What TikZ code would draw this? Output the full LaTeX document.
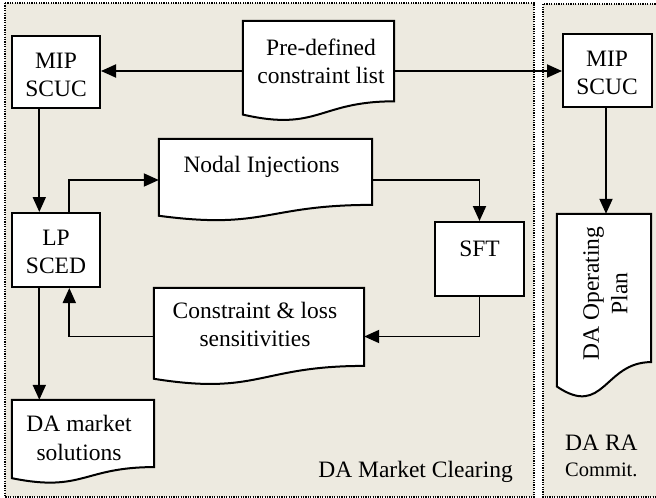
\documentclass[tikz,border=0pt]{standalone}
\usepackage{fontspec}
\setmainfont{Liberation Serif}
\usetikzlibrary{arrows.meta,calc}

\definecolor{paper}{RGB}{237,234,224}
\newcommand{\lbltxt}{\fontsize{23.5}{28.5}\selectfont}
\newcommand{\smalltxt}{\fontsize{20.5}{24}\selectfont}

\pgfdeclarelayer{panels}
\pgfdeclarelayer{shapes}
\pgfsetlayers{panels,shapes,main}

% outline of a flowchart "document" shape around a named frame node
\newcommand{\docoutline}[1]{%
  \draw[docline] (#1.north west) -- (#1.north east)
    -- ($(#1.north east)!0.802!(#1.south east)$)
    .. controls ($(#1.north)!0.802!(#1.south)$) and ($(#1.north)!1.107!(#1.south)$)
    .. ($(#1.north west)!0.934!(#1.south west)$) -- cycle;}

\tikzset{
  procbox/.style={draw, fill=white, line width=2pt, rectangle, inner sep=0pt},
  docframe/.style={rectangle, inner sep=0pt, draw=none},
  docline/.style={draw, fill=white, line width=2pt, line join=miter},
  lbl/.style={font=\lbltxt, align=center, inner sep=0pt},
  arr/.style={line width=1.9pt, -{Triangle[length=15pt,width=13pt]}},
  panelline/.style={line width=1.3pt, dash pattern=on 1.2pt off 1.2pt},
}

\begin{document}
\begin{tikzpicture}[x=1pt, y=-1pt]
\useasboundingbox (0,0) rectangle (656,498);

% panels
\begin{pgfonlayer}{panels}
  \fill[paper] (5,3) rectangle (534,497);
  \draw[panelline] (5,3) rectangle (534,497);
  \fill[paper] (543,4) rectangle (656,497);
  \draw[panelline] (658,4) -- (543,4) -- (543,497) -- (658,497);
\end{pgfonlayer}

% process boxes
\node[procbox, minimum width=88pt, minimum height=72pt] (mipL) at (56,72) {};
\node[lbl] at (56,75) {MIP\\SCUC};
\node[procbox, minimum width=88pt, minimum height=74pt] (lp) at (56,250) {};
\node[lbl] at (56,252) {LP\\SCED};
\node[procbox, minimum width=89pt, minimum height=74pt] (sft) at (479.5,259) {};
\node[lbl] at (479.5,248.5) {SFT};
\node[procbox, minimum width=89pt, minimum height=73pt] (mipR) at (607.5,70.5) {};
\node[lbl] at (607,73) {MIP\\SCUC};

% document shapes (frames) and their texts
\node[docframe, minimum width=151pt, minimum height=100pt] (pre) at (318.5,71) {};
\node[lbl] at (321,61.5) {Pre-defined\\constraint list};
\node[docframe, minimum width=213pt, minimum height=82pt] (nodal) at (265.5,180) {};
\node[lbl] at (261.5,166.5) {Nodal Injections};
\node[docframe, minimum width=210pt, minimum height=97pt] (cons) at (259,336.5) {};
\node[lbl] at (255,324.5) {Constraint \& loss\\sensitivities};
\node[docframe, minimum width=142pt, minimum height=83.5pt] (sol) at (83,441.75) {};
\node[lbl] at (79,438) {DA market\\solutions};
\node[docframe, minimum width=94pt, minimum height=184.5pt] (oplan) at (604,306.25) {};
\node[lbl, rotate=90] at (605.5,293.5) {DA Operating\\Plan};

\begin{pgfonlayer}{shapes}
  \docoutline{pre}
  \docoutline{nodal}
  \docoutline{cons}
  \docoutline{sol}
  \docoutline{oplan}
\end{pgfonlayer}

% panel captions
\node[font=\lbltxt, inner sep=0pt, anchor=base east] (mcl) at (513,477) {DA Market Clearing};
\node[font=\lbltxt, inner sep=0pt, anchor=base west] (rac) at (565,450) {DA RA};
\node[font=\smalltxt, inner sep=0pt, anchor=base west] (cmt) at (565,476) {Commit.};

% connectors
\draw[arr] (pre.west) -- (pre.west -| mipL.east);
\draw[arr] (pre.east) -- (pre.east -| mipR.west);
\draw[arr] ([xshift=-16.7pt]mipL.south) -- ([xshift=-16.7pt]lp.north);
\draw[arr] ([xshift=13.3pt]lp.north) |- (nodal.west);
\draw[arr] (nodal.east) -| (sft.north);
\draw[arr] (sft.south) |- (cons.east);
\draw[arr] (cons.west) -| ([xshift=13.3pt]lp.south);
\draw[arr] ([xshift=-16.7pt]lp.south) -- ([xshift=-16.7pt]lp.south |- sol.north);
\draw[arr] ([xshift=-1.5pt]mipR.south) -- ([xshift=-1.5pt]mipR.south |- oplan.north);
\end{tikzpicture}
\end{document}
